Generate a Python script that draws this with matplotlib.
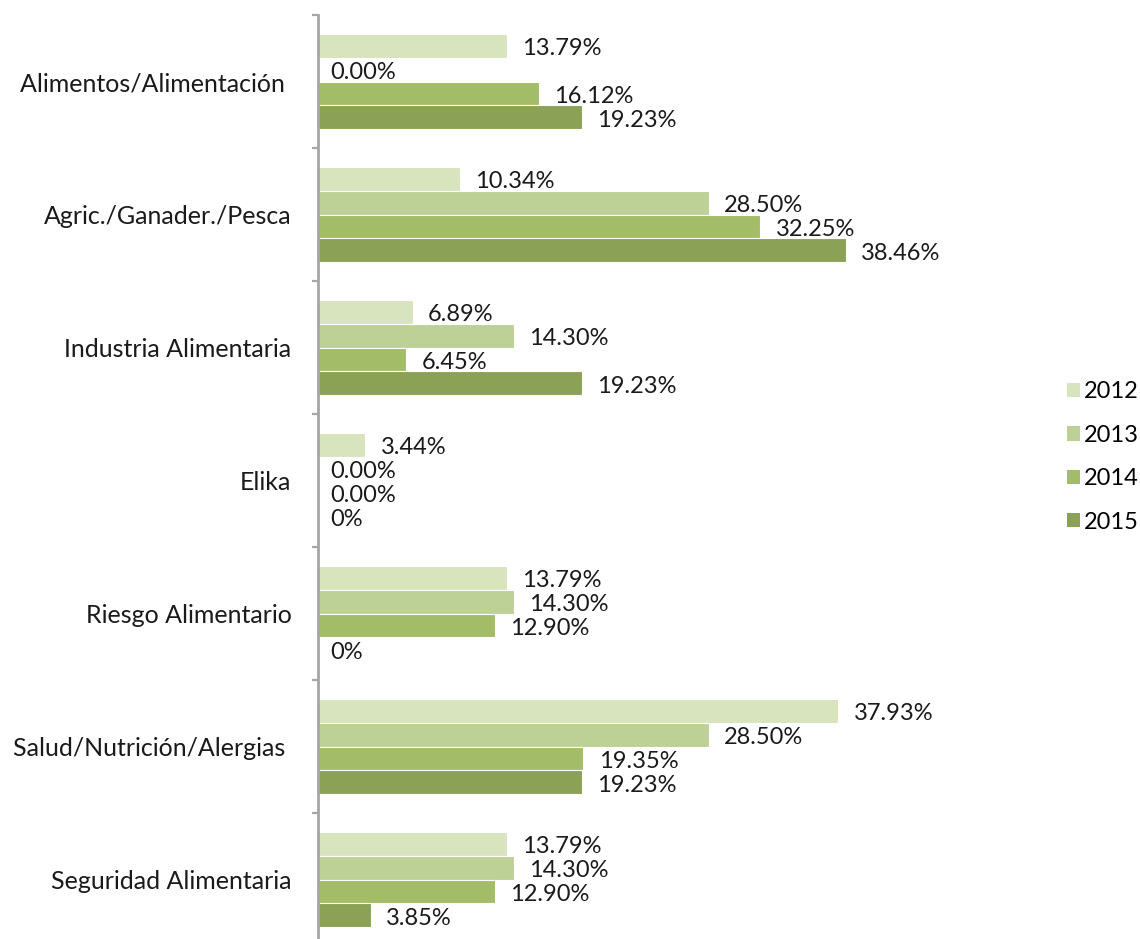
import numpy as np
import matplotlib.pyplot as plt
from matplotlib.patches import Patch

plt.rcParams['font.family'] = ['Lato', 'DejaVu Sans']

categories = ["Alimentos/Alimentación ", "Agric./Ganader./Pesca", "Industria Alimentaria",
              "Elika", "Riesgo Alimentario", "Salud/Nutrición/Alergias ", "Seguridad Alimentaria"]
years = ["2012", "2013", "2014", "2015"]
values = {
    "2012": [13.79, 10.34, 6.89, 3.44, 13.79, 37.93, 13.79],
    "2013": [0.00, 28.50, 14.30, 0.00, 14.30, 28.50, 14.30],
    "2014": [16.12, 32.25, 6.45, 0.00, 12.90, 19.35, 12.90],
    "2015": [19.23, 38.46, 19.23, 0, 0, 19.23, 3.85],
}
labels = {
    "2012": ["13.79%", "10.34%", "6.89%", "3.44%", "13.79%", "37.93%", "13.79%"],
    "2013": ["0.00%", "28.50%", "14.30%", "0.00%", "14.30%", "28.50%", "14.30%"],
    "2014": ["16.12%", "32.25%", "6.45%", "0.00%", "12.90%", "19.35%", "12.90%"],
    "2015": ["19.23%", "38.46%", "19.23%", "0%", "0%", "19.23%", "3.85%"],
}
colors = ["#D7E4BD", "#BDD197", "#A3BC67", "#8BA155"]

W, H = 1140, 939
fig = plt.figure(figsize=(W / 100, H / 100), dpi=100)
ax = fig.add_axes([318 / W, -7 / H, 686 / W, 931 / H])

y = np.arange(len(categories))
bh = 0.18
offsets = [-1.5, -0.5, 0.5, 1.5]
for k, yr in enumerate(years):
    pos = y + offsets[k] * bh
    ax.barh(pos, values[yr], height=bh, color=colors[k], edgecolor="white", linewidth=0.8)
    for p, v, lab in zip(pos, values[yr], labels[yr]):
        ax.annotate(lab, (v, p), xytext=(9 if v == 0 else 11, -2), textcoords="offset points",
                    ha="left", va="center", fontsize=17, color="#1a1a1a")

ax.set_xlim(0, 50)
ax.set_ylim(len(categories) - 0.5, -0.5)
ax.set_xticks([])
ax.set_yticks(y)
ax.set_yticklabels(categories, fontsize=18, color="#1a1a1a")
ax.tick_params(axis="y", which="major", length=0, pad=19)
ax.set_yticks(np.arange(-0.5, len(categories)), minor=True)
ax.tick_params(axis="y", which="minor", length=4.5, width=1.6, color="#a6a6a6", direction="out")
for s in ["top", "right", "bottom"]:
    ax.spines[s].set_visible(False)
ax.spines["left"].set_color("#a6a6a6")
ax.spines["left"].set_linewidth(2)

handles = [Patch(facecolor=c, label=yr) for c, yr in zip(colors, years)]
fig.legend(handles=handles, loc="upper left", bbox_to_anchor=(1058 / W, 1 - 372 / H),
           frameon=False, fontsize=17, handlelength=0.55, handleheight=0.55,
           handletextpad=0.15, labelspacing=0.95, borderaxespad=0)

fig.savefig("out.png", dpi=100)
